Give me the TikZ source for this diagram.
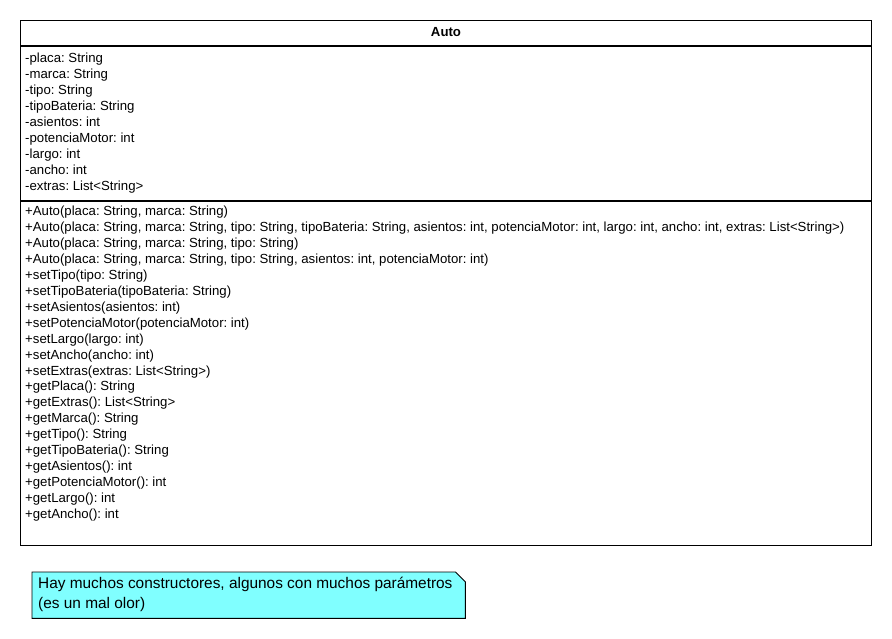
\documentclass[tikz,border=0pt]{standalone}
\usepackage{fontspec}
\setmainfont{Liberation Sans}
\usetikzlibrary{positioning}
\definecolor{notecyan}{RGB}{128,255,255}
\frenchspacing

\begin{document}
\begin{tikzpicture}[x=1pt,y=-1pt,
    compartment/.style={draw,line width=1pt,minimum width=851pt,inner sep=0pt,anchor=north west},
    member/.style={anchor=base west,inner sep=0pt,font=\fontsize{13.2}{16}\selectfont}]
    \useasboundingbox (0,0) rectangle (892,639);
    % class Auto
    \node[compartment,minimum height=25pt] (head) at (20,20) {};
    \node[compartment,minimum height=154pt] (attrs) at (head.south west) {};
    \node[compartment,minimum height=344pt] (ops) at (attrs.south west) {};
    \node[member,anchor=base,font=\fontsize{13.2}{16}\selectfont\bfseries] (name) at (446,36.5) {Auto};
    % attributes
    \foreach \txt [count=\i] in {-placa: String,-marca: String,-tipo: String,
      -tipoBateria: String,-asientos: int,-potenciaMotor: int,-largo: int,
      -ancho: int,-extras: List<String>}
      \node[member] (attr\i) at (25,46.5+16*\i) {\txt};
    % operations
    \foreach \txt [count=\i] in {{+Auto(placa: String, marca: String)},
      {+Auto(placa: String, marca: String, tipo: String, tipoBateria: String, asientos: int, potenciaMotor: int, largo: int, ancho: int, extras: List<String>)},
      {+Auto(placa: String, marca: String, tipo: String)},
      {+Auto(placa: String, marca: String, tipo: String, asientos: int, potenciaMotor: int)},
      +setTipo(tipo: String),+setTipoBateria(tipoBateria: String),
      +setAsientos(asientos: int),+setPotenciaMotor(potenciaMotor: int),
      +setLargo(largo: int),+setAncho(ancho: int),+setExtras(extras: List<String>),
      +getPlaca(): String,+getExtras(): List<String>,+getMarca(): String,
      +getTipo(): String,+getTipoBateria(): String,+getAsientos(): int,
      +getPotenciaMotor(): int,+getLargo(): int,+getAncho(): int}
      \node[member] (op\i) at (25,199.55+15.95*\i) {\txt};
    % note
    \node[minimum width=433pt,minimum height=46pt,inner sep=0pt,anchor=north west] (note) at (32,572) {};
    \draw[line width=.9pt,fill=notecyan] (note.north west) -- ([xshift=-10pt]note.north east)
      -- ([yshift=-10pt]note.north east) -- (note.south east) -- (note.south west) -- cycle;
    \node[anchor=base west,inner sep=0pt,font=\fontsize{15.4}{20}\selectfont] (notetext) at (38,588.3)
      {Hay muchos constructores, algunos con muchos parámetros};
    \node[anchor=base west,inner sep=0pt,font=\fontsize{15.4}{20}\selectfont] (notetext2) at (38,608.3)
      {(es un mal olor)};
\end{tikzpicture}
\end{document}
